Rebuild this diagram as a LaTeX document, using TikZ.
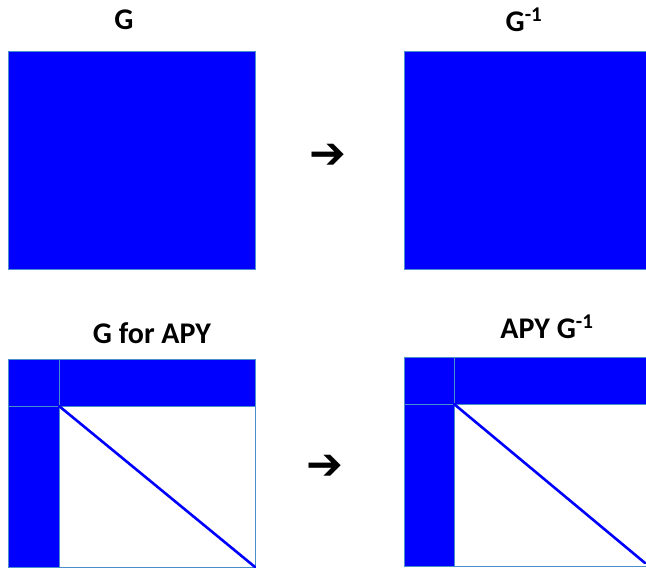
\documentclass[tikz,border=0pt]{standalone}
\usepackage{fontspec}
\setmainfont{Carlito}
\newfontfamily\arrowfont{DejaVu Sans}
\definecolor{matblue}{HTML}{0000FF}
\definecolor{edgeblue}{HTML}{4A8FCB}
\tikzset{
  lbl/.style={font=\fontsize{30}{34}\selectfont\bfseries, inner sep=0pt, anchor=base},
  arr/.style={font=\arrowfont\bfseries\fontsize{44}{48}\selectfont, inner sep=0pt},
  blk/.style={fill=matblue, draw=edgeblue, line width=1pt},
  outline/.style={draw=edgeblue, line width=1pt},
  diag/.style={draw=matblue, line width=2.6pt, line cap=round}
}
\begin{document}
\begin{tikzpicture}[x=1pt,y=-1pt]
\useasboundingbox (0,0) rectangle (646,570);
\clip (0,0) rectangle (646,570);
\fill[white] (0,0) rectangle (646,570);
% top row
\node[lbl] (tG) at (124,30) {G};
\node[lbl] (tGinv) at (524,31) {G\textsuperscript{-1}};
\draw[blk] (8,51) rectangle (255,269);
\draw[blk] (404,51) rectangle (660,269);
\node[arr] (a1) at (328,156) {➔};
% bottom row
\node[lbl] (bG) at (152,343) {G for APY};
\node[lbl] (bGinv) at (547,338) {APY G\textsuperscript{-1}};
% bottom-left
\fill[matblue] (8,359) rectangle (255,406);
\fill[matblue] (8,359) rectangle (59,567);
\draw[outline] (8,359) rectangle (255,567);
\draw[outline] (59,359) -- (59,567);
\draw[outline] (8,406) -- (255,406);
\coordinate (d1s) at (59,406);
\coordinate (d1e) at (255,567);
\draw[diag] (d1s) -- (d1e);
% bottom-right
\fill[matblue] (404,357) rectangle (660,404);
\fill[matblue] (404,357) rectangle (454,566);
\draw[outline] (404,357) rectangle (660,566);
\draw[outline] (454,357) -- (454,566);
\draw[outline] (404,404) -- (660,404);
\coordinate (d2s) at (454,404);
\coordinate (d2e) at (645,563);
\draw[diag] (d2s) -- (d2e);
\node[arr] (a2) at (325,467) {➔};
\end{tikzpicture}
\end{document}
